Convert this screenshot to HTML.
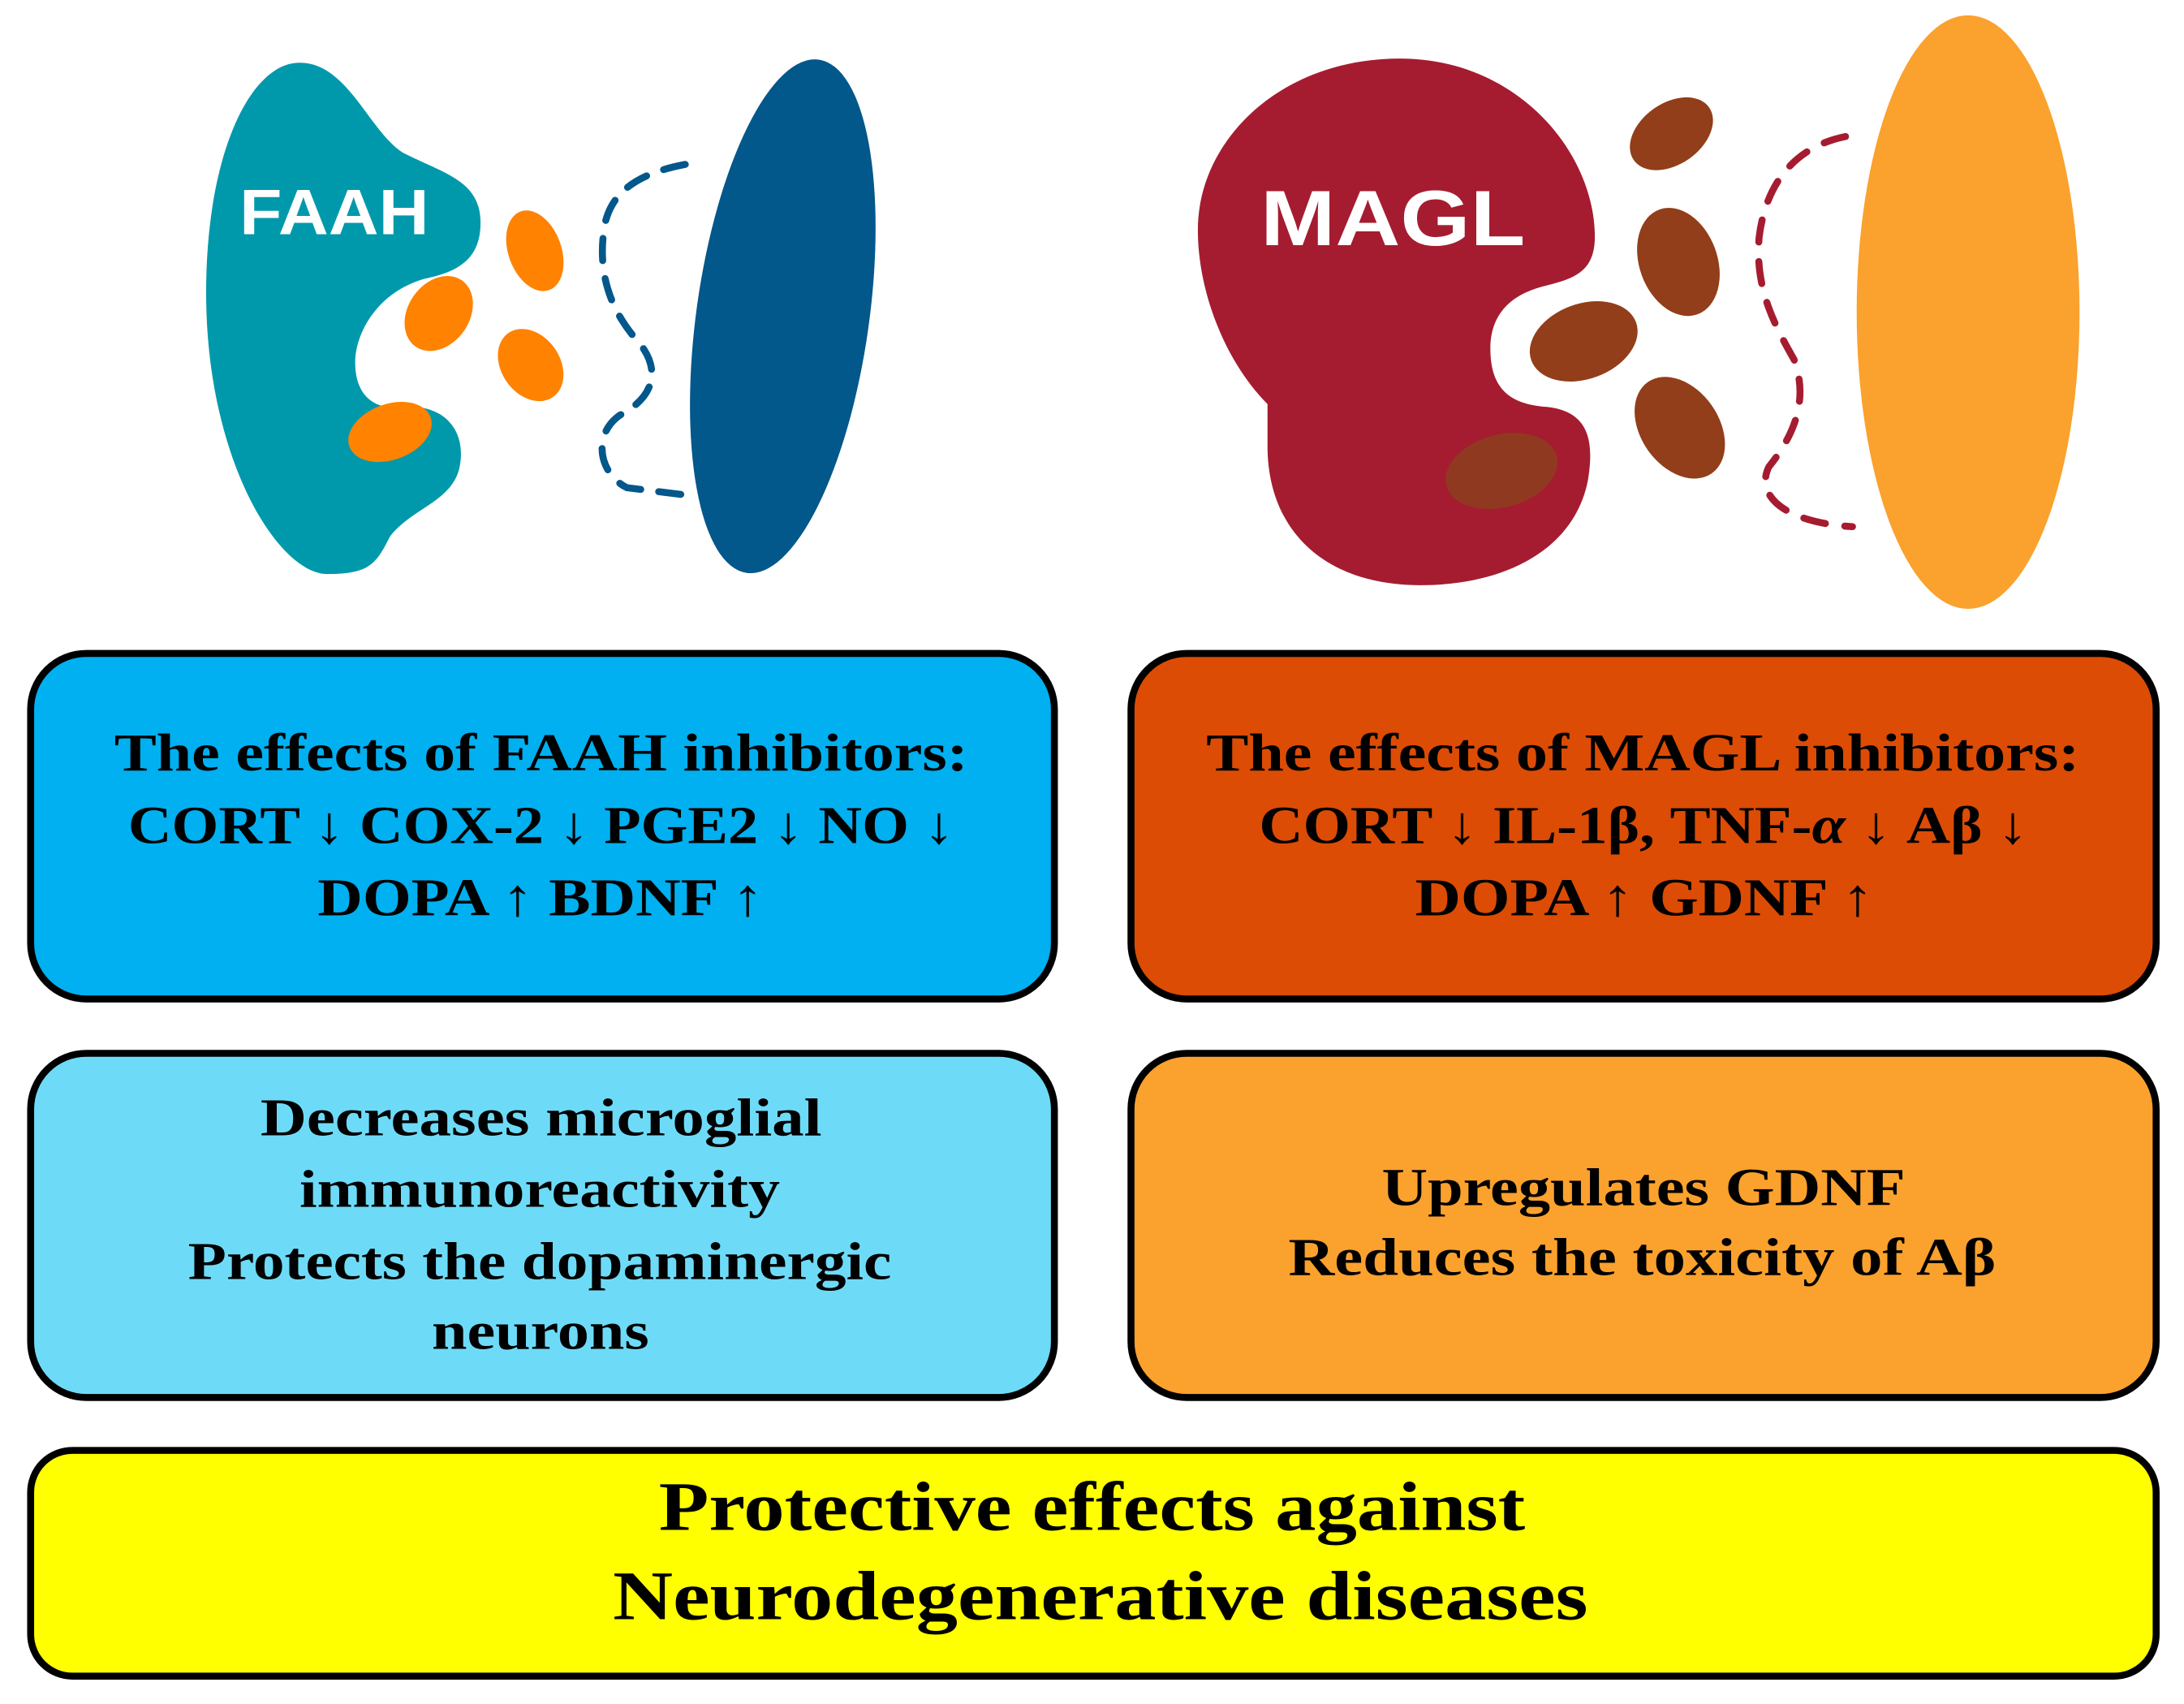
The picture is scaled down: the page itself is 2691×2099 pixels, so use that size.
<!DOCTYPE html>
<html><head><meta charset="utf-8"><style>html,body{margin:0;padding:0;background:#fff}svg{display:block}</style></head><body>
<svg width="2691" height="2099" viewBox="0 0 1568 1223" preserveAspectRatio="none" xmlns="http://www.w3.org/2000/svg">
<rect width="1568" height="1223" fill="#fff"/>
<!-- FAAH -->
<path d="M215,45 C250,45 265,95 290,110 C320,125 345,130 345,160 C345,185 330,195 305,200 C270,210 255,240 255,260 C255,285 270,295 290,292 C320,290 335,310 330,335 C325,360 295,365 280,385 C270,405 265,412 235,412 C200,412 148,330 148,210 C148,110 180,45 215,45 Z" fill="#0099AB"/>
<text x="172" y="168" font-family="Liberation Sans, sans-serif" font-weight="bold" font-size="46" fill="#fff" textLength="136" lengthAdjust="spacingAndGlyphs">FAAH</text>
<ellipse cx="562" cy="227" rx="62" ry="186" transform="rotate(8 562 227)" fill="#02578B"/>
<path d="M492,118 C455,125 435,140 433,170 C430,200 440,225 458,245 C475,265 470,285 445,298 C425,312 430,340 450,350 L490,355" fill="none" stroke="#02578B" stroke-width="5" stroke-dasharray="16 13" stroke-linecap="round"/>
<g fill="#FF8200">
<ellipse cx="384" cy="180" rx="19" ry="30" transform="rotate(-20 384 180)"/>
<ellipse cx="315" cy="225" rx="22" ry="29" transform="rotate(35 315 225)"/>
<ellipse cx="381" cy="262" rx="21" ry="28" transform="rotate(-35 381 262)"/>
<ellipse cx="280" cy="310" rx="31" ry="20" transform="rotate(-20 280 310)"/>
</g>
<!-- MAGL -->
<path d="M1005,42 C1090,42 1145,110 1145,170 C1145,195 1130,200 1110,205 C1080,212 1070,230 1070,250 C1070,280 1085,290 1110,292 C1140,295 1145,315 1140,345 C1130,395 1080,420 1020,420 C950,420 910,380 910,320 L910,290 C880,260 860,210 860,165 C860,100 920,42 1005,42Z" fill="#A51C30"/>
<text x="905" y="176" font-family="Liberation Sans, sans-serif" font-weight="bold" font-size="56" fill="#fff" textLength="190" lengthAdjust="spacingAndGlyphs">MAGL</text>
<g fill="#923E1A">
<ellipse cx="1200" cy="96" rx="33" ry="22" transform="rotate(-35 1200 96)"/>
<ellipse cx="1205" cy="188" rx="28" ry="40" transform="rotate(-20 1205 188)"/>
<ellipse cx="1137" cy="245" rx="40" ry="27" transform="rotate(-20 1137 245)"/>
<ellipse cx="1206" cy="307" rx="28" ry="40" transform="rotate(-35 1206 307)"/>
<ellipse cx="1078" cy="338" rx="41" ry="26" transform="rotate(-15 1078 338)" fill="#8F3A20"/>
</g>
<ellipse cx="1413" cy="224" rx="80" ry="213" fill="#FBA12D"/>
<path d="M1325,98 C1290,105 1268,130 1263,170 C1260,205 1272,230 1288,258 C1298,285 1290,310 1270,335 C1260,355 1280,375 1330,378" fill="none" stroke="#A51C30" stroke-width="5" stroke-dasharray="16 14" stroke-linecap="round"/>
<!-- boxes -->
<g stroke="#000" stroke-width="5">
<rect x="22" y="469" width="735" height="248" rx="40" fill="#00B0F0"/>
<rect x="812" y="469" width="736" height="248" rx="40" fill="#DC4C04"/>
<rect x="22" y="756" width="735" height="247" rx="40" fill="#6DDBF7"/>
<rect x="812" y="756" width="736" height="247" rx="40" fill="#FBA12D"/>
<rect x="22" y="1041" width="1526" height="162" rx="30" fill="#FFFF00"/>
</g>
<g font-family="Liberation Serif, serif" font-weight="bold" font-size="38" fill="#000" lengthAdjust="spacingAndGlyphs">
<text x="82" y="553" textLength="613" lengthAdjust="spacingAndGlyphs">The effects of FAAH inhibitors:</text>
<text x="92" y="605" textLength="593" lengthAdjust="spacingAndGlyphs">CORT ↓ COX-2 ↓ PGE2 ↓ NO ↓</text>
<text x="228" y="657" textLength="320" lengthAdjust="spacingAndGlyphs">DOPA ↑ BDNF ↑</text>
<text x="866" y="553" textLength="627" lengthAdjust="spacingAndGlyphs">The effects of MAGL inhibitors:</text>
<text x="904" y="605" textLength="552" lengthAdjust="spacingAndGlyphs">CORT ↓ IL-1β, TNF-<tspan font-style="italic">α</tspan> ↓ Aβ ↓</text>
<text x="1016" y="657" textLength="329" lengthAdjust="spacingAndGlyphs">DOPA ↑ GDNF ↑</text>
<text x="187" y="815" textLength="403" lengthAdjust="spacingAndGlyphs">Decreases microglial</text>
<text x="215" y="866" textLength="345" lengthAdjust="spacingAndGlyphs">immunoreactivity</text>
<text x="135" y="918" textLength="505" lengthAdjust="spacingAndGlyphs">Protects the dopaminergic</text>
<text x="310" y="968" textLength="156" lengthAdjust="spacingAndGlyphs">neurons</text>
<text x="992" y="865" textLength="376" lengthAdjust="spacingAndGlyphs">Upregulates GDNF</text>
<text x="925" y="915" textLength="508" lengthAdjust="spacingAndGlyphs">Reduces the toxicity of Aβ</text>
<text x="473" y="1098" font-size="50" textLength="622" lengthAdjust="spacingAndGlyphs">Protective effects against</text>
<text x="440" y="1162" font-size="50" textLength="700" lengthAdjust="spacingAndGlyphs">Neurodegenerative diseases</text>
</g>
</svg>
</body></html>
